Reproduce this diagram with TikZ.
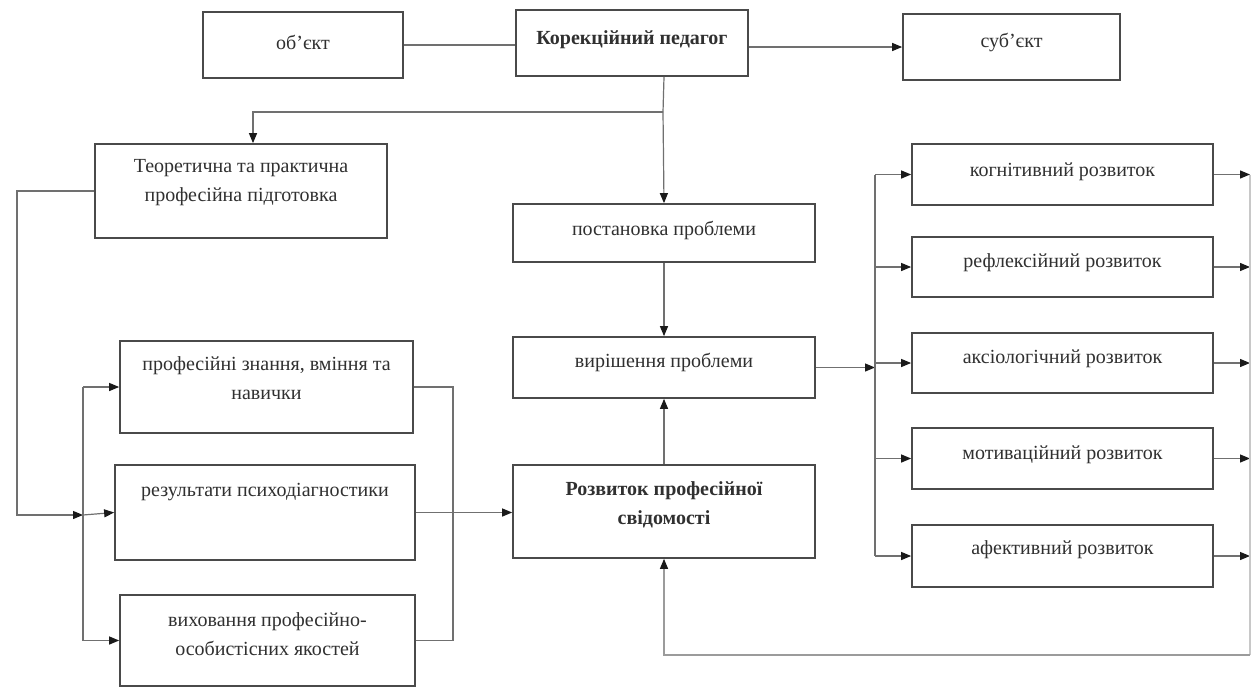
\documentclass[tikz,border=0pt]{standalone}
\usepackage{fontspec}
\setmainfont{Liberation Serif}
\usetikzlibrary{arrows.meta,calc}
\definecolor{boxc}{HTML}{4A4A4A}
\definecolor{linec}{HTML}{707070}
\definecolor{faintc}{HTML}{C8C8C8}
\definecolor{txtc}{HTML}{303030}
\definecolor{tipc}{HTML}{1A1A1A}
\begin{document}
\begin{tikzpicture}[x=1pt,y=-1pt,
  box/.style={draw=boxc,line width=1.7pt,inner sep=0pt,fill=white},
  tx/.style={font=\fontsize{20}{29}\selectfont,text=txtc,align=center,inner sep=0pt},
  bx/.style={font=\bfseries\fontsize{20}{29}\selectfont,text=txtc,align=center,inner sep=0pt},
  conn/.style={draw=linec,line width=1.2pt},
  faint/.style={draw=faintc,line width=1.2pt},
  arr/.style={-{Triangle[length=10pt,width=8pt,color=tipc]}}]
\fill[white] (0,0) rectangle (1253,688);
\useasboundingbox (0,0) rectangle (1253,688);

% top row
\node[box,minimum width=200pt,minimum height=66pt,label={[tx,yshift=3pt]center:об'єкт}] (obj) at (303,45) {};
\node[box,minimum width=232pt,minimum height=66pt,label={[bx,yshift=3pt]center:Корекційний педагог}] (ped) at (632,43) {};
\node[box,minimum width=217pt,minimum height=66pt,label={[tx,yshift=5pt]center:суб'єкт}] (sub) at (1011.5,47) {};

% left column
\node[box,minimum width=292pt,minimum height=94pt,label={[tx,yshift=8pt]center:{Теоретична та практична\\професійна підготовка}}] (teo) at (241,191) {};
\node[box,minimum width=293pt,minimum height=92pt,label={[tx,yshift=9pt]center:{професійні знання, вміння та\\навички}}] (znan) at (266.5,387) {};
\node[box,minimum width=300pt,minimum height=95pt,label={[tx,yshift=20pt]center:результати психодіагностики}] (rez) at (265,512.5) {};
\node[box,minimum width=295pt,minimum height=91pt,label={[tx,yshift=6pt]center:{виховання професійно-\\особистісних якостей}}] (vyh) at (267.5,640.5) {};

% centre column
\node[box,minimum width=302pt,minimum height=58pt,label={[tx,yshift=3pt]center:постановка проблеми}] (post) at (664,233) {};
\node[box,minimum width=302pt,minimum height=61pt,label={[tx,yshift=5pt]center:вирішення проблеми}] (vyr) at (664,367.5) {};
\node[box,minimum width=302pt,minimum height=93pt,label={[bx,yshift=7pt]center:{Розвиток професійної\\свідомості}}] (rozv) at (664,511.5) {};

% right column
\node[box,minimum width=301pt,minimum height=61pt,label={[tx,yshift=3pt]center:когнітивний розвиток}] (kog) at (1062.5,174.5) {};
\node[box,minimum width=301pt,minimum height=60pt,label={[tx,yshift=4pt]center:рефлексійний розвиток}] (ref) at (1062.5,267) {};
\node[box,minimum width=301pt,minimum height=60pt,label={[tx,yshift=4pt]center:аксіологічний розвиток}] (aks) at (1062.5,363) {};
\node[box,minimum width=301pt,minimum height=61pt,label={[tx,yshift=4pt]center:мотиваційний розвиток}] (mot) at (1062.5,458.5) {};
\node[box,minimum width=301pt,minimum height=62pt,label={[tx,yshift=6pt]center:афективний розвиток}] (afe) at (1062.5,556) {};

% helper coordinates
\coordinate (brk) at (663,112);
\coordinate (teoin) at (253,112);
\coordinate (lcol) at (17,515);
\coordinate (lbus) at (83,515);
\coordinate (lbr) at (453,0);
\coordinate (rbus) at (875,0);
\coordinate (rout) at (1250,0);
\coordinate (bot) at (1250,655);

% top connectors
\draw[conn] (obj.east) -- (obj.east -| ped.west);
\draw[conn,arr] (ped.east |- sub.west) -- (sub.west);
\draw[conn] (post.north |- ped.south) -- (brk);
\draw[conn,arr] (brk) -- (post.north);
\draw[conn,arr] (brk) -- (teoin) -- (teoin |- teo.north);

% centre connectors
\draw[conn,arr] (post.south) -- (vyr.north);
\draw[conn,arr] (rozv.north) -- (vyr.south);

% left side
\draw[conn,arr] (teo.west) -- (teo.west -| lcol) -- (lcol) -- (lbus);
\draw[conn] (znan.west -| lbus) -- (vyh.west -| lbus);
\draw[conn,arr] (znan.west -| lbus) -- (znan.west);
\draw[conn,arr] (lbus) -- (rez.west);
\draw[conn,arr] (vyh.west -| lbus) -- (vyh.west);
\draw[conn] (znan.east) -- (znan.east -| lbr) -- (vyh.east -| lbr) -- (vyh.east);
\draw[conn,arr] (rez.east) -- (rozv.west |- rez.east);

% right side
\draw[conn,arr] (vyr.east) -- (vyr.east -| rbus);
\draw[conn] (kog.west -| rbus) -- (afe.west -| rbus);
\foreach \b in {kog,ref,aks,mot,afe}{
  \draw[conn,arr] (\b.west -| rbus) -- (\b.west);
  \draw[conn,arr] (\b.east) -- (\b.east -| rout);
}
\draw[faint] (kog.east -| rout) -- (bot);
\draw[conn,draw=linec!70,arr] (bot) -- (bot -| rozv.south) -- (rozv.south);
\end{tikzpicture}
\end{document}
